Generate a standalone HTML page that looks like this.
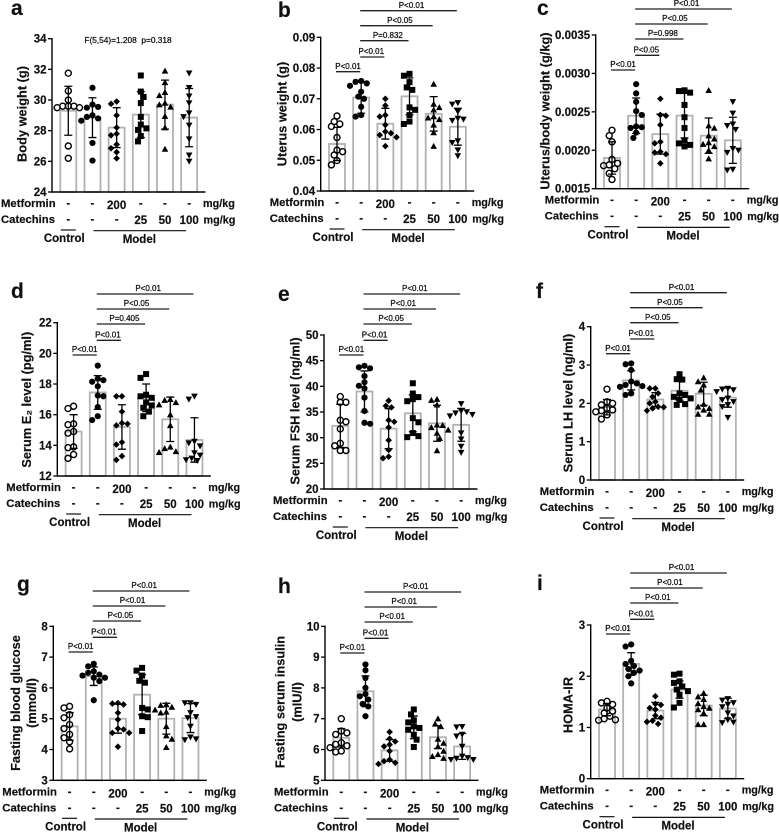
<!DOCTYPE html>
<html lang="en">
<head>
<meta charset="utf-8">
<title>Body weight, uterus, hormone and glucose panels</title>
<style>
html,body{margin:0;padding:0;background:#fff;}
body{width:779px;height:833px;overflow:hidden;}
svg{display:block;filter:blur(0.35px);font-family:"Liberation Sans",Arial,sans-serif;font-weight:bold;fill:#111;}
text{stroke:#111;stroke-width:0.18px;}
</style>
</head>
<body>
<svg id="figure" xmlns="http://www.w3.org/2000/svg" width="779" height="833" viewBox="0 0 779 833"></svg>
<script>
const metforminDoses = ['-', '-', '200', '-', '-', '-'];
const catechinDoses = ['-', '-', '-', '25', '50', '100'];

const aTicks = ['24', '26', '28', '30', '32', '34'];
const aMeans = [29.3, 28.85, 28.2, 29.05, 29.7, 28.85];
const aSds = [1.6, 1.3, 1.3, 1.5, 1.6, 1.9];
const aPoints = [
  [31.75, 30.6, 30, 29.6, 29.6, 29.6, 29.5, 29.5, 27, 26.2],
  [30.8, 29.7, 29.55, 29.5, 29, 28.9, 28.8, 28.65, 27.2, 26.05],
  [29.9, 29.75, 29, 28.2, 27.8, 27.7, 27.1, 26.85, 26.6, 26.2],
  [31.6, 30.55, 30.2, 29.8, 28.9, 28.4, 28.15, 28.05, 27.65, 27.3],
  [31.9, 31.15, 30.5, 30.3, 29.8, 29.7, 29.55, 28.95, 28.2, 26.8],
  [31.75, 30.8, 30.25, 29.8, 29.15, 28.9, 28.35, 27.45, 26.4, 26]
];

const bTicks = ['0.04', '0.05', '0.06', '0.07', '0.08', '0.09'];
const bMeans = [0.0553, 0.0704, 0.0619, 0.0708, 0.0651, 0.0609];
const bSds = [0.0054, 0.0051, 0.005, 0.006, 0.0056, 0.006];
const bPoints = [
  [0.0644, 0.0626, 0.0618, 0.061, 0.0574, 0.0533, 0.0528, 0.0517, 0.0499, 0.0485],
  [0.0758, 0.0755, 0.075, 0.0742, 0.0723, 0.0707, 0.07, 0.0674, 0.0647, 0.0642],
  [0.07, 0.0678, 0.0647, 0.0642, 0.0615, 0.0593, 0.0588, 0.0582, 0.0575, 0.0546],
  [0.0781, 0.0775, 0.0754, 0.0737, 0.0729, 0.0672, 0.0664, 0.0647, 0.0626, 0.0618],
  [0.0748, 0.0683, 0.0672, 0.0664, 0.0642, 0.0638, 0.0633, 0.0615, 0.059, 0.0546],
  [0.0687, 0.0682, 0.0658, 0.0636, 0.0633, 0.0629, 0.0563, 0.0557, 0.0533, 0.0514]
];

const cTicks = ['0.0015', '0.0020', '0.0025', '0.0030', '0.0035'];
const cMeans = [0.0019, 0.00245, 0.00221, 0.00245, 0.00219, 0.00213];
const cSds = [0.00021, 0.00023, 0.00026, 0.00029, 0.00023, 0.0003];
const cPoints = [
  [0.00226, 0.00219, 0.00211, 0.00188, 0.00183, 0.00181, 0.0018, 0.00176, 0.0017, 0.00162],
  [0.00286, 0.00274, 0.00263, 0.00251, 0.00246, 0.00231, 0.0023, 0.00229, 0.00223, 0.00216],
  [0.00267, 0.00246, 0.00245, 0.00233, 0.00211, 0.00209, 0.00198, 0.00197, 0.00195, 0.00183],
  [0.00278, 0.00277, 0.00275, 0.00259, 0.00243, 0.00229, 0.00213, 0.00209, 0.00207, 0.00205],
  [0.00278, 0.00232, 0.00229, 0.00219, 0.00215, 0.0021, 0.00208, 0.00205, 0.002, 0.00189],
  [0.00263, 0.00248, 0.00234, 0.00232, 0.00227, 0.00202, 0.002, 0.00197, 0.00175, 0.00174]
];

const dTicks = ['12', '14', '16', '18', '20', '22'];
const dMeans = [14.9, 17.45, 15.2, 17.1, 15.7, 14.35];
const dSds = [1.1, 1.1, 1.45, 0.9, 1.45, 1.45];
const dPoints = [
  [16.55, 16.4, 15.4, 15.35, 14.9, 14.8, 13.9, 13.85, 13.4, 13.15],
  [19.2, 18.35, 18.25, 18.15, 17.85, 17.25, 17.2, 16.5, 15.9, 15.65],
  [17.2, 17.2, 16.2, 15.45, 15.4, 15.3, 14.2, 14.05, 13.3, 13.05],
  [18.65, 18.4, 17.3, 17.2, 17.1, 16.8, 16.6, 16.45, 16.2, 15.9],
  [17, 16.95, 16.8, 16.65, 16, 15.3, 13.9, 13.8, 13.6, 13.55],
  [17.2, 17, 14.25, 14.15, 13.95, 13.5, 13.35, 13.15, 13.05, 13]
];

const eTicks = ['20', '25', '30', '35', '40', '45', '50'];
const eMeans = [32.3, 39, 31.75, 34.75, 32.8, 32.5];
const eSds = [4.2, 4, 3.9, 3.6, 3.5, 3.2];
const ePoints = [
  [38, 36.9, 36.9, 33.4, 33.1, 31.7, 28.9, 28.4, 27.5, 27.5],
  [44, 43.7, 43.5, 42, 40.8, 40.1, 39.6, 37.8, 35.2, 32.9, 32.7],
  [37.2, 36.2, 35.9, 33.4, 33.1, 32, 29.5, 27.6, 26.3, 26],
  [40.6, 38.6, 37.9, 37.5, 37.1, 33.8, 33, 30.9, 30.3, 30.1],
  [37.5, 37.3, 36.4, 32.5, 32.4, 32, 31.5, 30.9, 29.9, 27.5],
  [36.6, 35.2, 35, 34.8, 34.5, 34.2, 30.9, 29.7, 28.3, 27.1]
];

const fTicks = ['0', '1', '2', '3', '4'];
const fMeans = [1.9, 2.6, 2.1, 2.33, 2.25, 2.15];
const fSds = [0.2, 0.25, 0.18, 0.25, 0.3, 0.25];
const fPoints = [
  [2.37, 2.04, 2, 1.96, 1.87, 1.83, 1.81, 1.78, 1.7, 1.59],
  [3.04, 3.02, 2.87, 2.57, 2.52, 2.48, 2.45, 2.43, 2.26, 2.22],
  [2.39, 2.39, 2.26, 2.17, 2.04, 2, 1.91, 1.9, 1.87, 1.81],
  [2.76, 2.63, 2.62, 2.26, 2.22, 2.17, 2.13, 2.09, 1.98, 1.96],
  [2.67, 2.57, 2.48, 2.35, 1.98, 1.91, 1.87, 1.83, 1.72, 1.72],
  [2.39, 2.37, 2.35, 2.3, 2.13, 2.09, 2.04, 1.96, 1.91, 1.63]
];

const gTicks = ['3', '4', '5', '6', '7', '8'];
const gMeans = [4.75, 6.38, 5, 5.78, 5, 5.02];
const gSds = [0.45, 0.3, 0.47, 0.65, 0.5, 0.47];
const gPoints = [
  [5.4, 5.35, 5.13, 5.03, 4.81, 4.68, 4.49, 4.38, 4.25, 4.02],
  [6.78, 6.7, 6.54, 6.49, 6.43, 6.4, 6.33, 6.33, 6.22, 5.6],
  [5.51, 5.49, 5.46, 5.19, 4.97, 4.68, 4.65, 4.54, 4.54, 4.09],
  [6.65, 6.56, 6.4, 6.23, 6.17, 5.35, 5.3, 5.08, 5.05, 4.6],
  [5.46, 5.44, 5.38, 5.29, 5.22, 5.19, 4.75, 4.45, 4.34, 4.07],
  [5.51, 5.51, 5.46, 5.19, 5.06, 5.03, 4.75, 4.4, 4.34, 4.31]
];

const hTicks = ['5', '6', '7', '8', '9', '10'];
const hMeans = [6.38, 7.89, 5.97, 6.72, 6.4, 6.1];
const hSds = [0.3, 0.5, 0.35, 0.37, 0.37, 0.42];
const hPoints = [
  [7, 6.6, 6.54, 6.49, 6.22, 6.17, 6.12, 6.06, 5.95, 5.92],
  [8.76, 8.57, 8.32, 8, 7.8, 7.73, 7.62, 7.48, 7.4, 7.08],
  [6.57, 6.35, 6.26, 6.16, 6.1, 5.95, 5.67, 5.62, 5.57, 5.53],
  [7.3, 7.14, 6.95, 6.88, 6.75, 6.7, 6.64, 6.48, 6.32, 6.08],
  [7, 6.83, 6.75, 6.34, 6.21, 6.1, 5.95, 5.84, 5.78, 5.72],
  [6.74, 6.73, 6.49, 6.43, 6.1, 5.78, 5.73, 5.71, 5.67, 5.67]
];

const iTicks = ['0', '1', '2', '3'];
const iMeans = [1.35, 2.24, 1.33, 1.74, 1.43, 1.37];
const iSds = [0.12, 0.22, 0.16, 0.17, 0.2, 0.2];
const iPoints = [
  [1.51, 1.48, 1.45, 1.38, 1.32, 1.28, 1.22, 1.17, 1.15, 1.14],
  [2.62, 2.58, 2.3, 2.24, 2.2, 2.14, 2.11, 2.07, 2, 1.86],
  [1.61, 1.46, 1.44, 1.38, 1.35, 1.23, 1.19, 1.13, 1.11, 1.07],
  [2.05, 2.03, 1.9, 1.87, 1.8, 1.74, 1.71, 1.64, 1.48, 1.39],
  [1.67, 1.6, 1.55, 1.47, 1.41, 1.38, 1.35, 1.28, 1.06, 1.06],
  [1.56, 1.53, 1.48, 1.45, 1.4, 1.28, 1.22, 1.15, 1.1, 1.09]
];

const bSig = ['P<0.01', 'P<0.01', 'P=0.832', 'P<0.05', 'P<0.01'];
const cSig = ['P<0.01', 'P<0.05', 'P=0.998', 'P<0.05', 'P<0.01'];
const dSig = ['P<0.01', 'P<0.01', 'P=0.405', 'P<0.05', 'P<0.01'];
const eSig = ['P<0.01', 'P<0.01', 'P<0.05', 'P<0.01', 'P<0.01'];
const fSig = ['P<0.01', 'P<0.01', 'P<0.05', 'P<0.05', 'P<0.01'];
const gSig = ['P<0.01', 'P<0.01', 'P<0.05', 'P<0.01', 'P<0.01'];
const hSig = ['P<0.01', 'P<0.01', 'P<0.01', 'P<0.01', 'P<0.01'];
const iSig = ['P<0.01', 'P<0.01', 'P<0.01', 'P<0.01', 'P<0.01'];

const panels = [
  {id:'a', axis:52, top:38.7, base:192, ticks:aTicks, means:aMeans, sds:aSds, points:aPoints, sig:null, sigY:0,
   letterX:11, letterY:15, title:['Body weight (g)'], titleX:[22], titleY:114},
  {id:'b', axis:320.7, top:37.3, base:191, ticks:bTicks, means:bMeans, sds:bSds, points:bPoints, sig:bSig, sigY:71.7,
   letterX:278, letterY:17, title:['Uterus weight (g)'], titleX:[282], titleY:114},
  {id:'c', axis:595.7, top:35, base:188.7, ticks:cTicks, means:cMeans, sds:cSds, points:cPoints, sig:cSig, sigY:70,
   letterX:537, letterY:15, title:['Uterus/body weight (g/kg)'], titleX:[545], titleY:111},
  {id:'d', axis:57.3, top:322.7, base:476, ticks:dTicks, means:dMeans, sds:dSds, points:dPoints, sig:dSig, sigY:355,
   letterX:11, letterY:298, title:['Serum E\u2082 level (pg/ml)'], titleX:[26.7], titleY:399.7},
  {id:'e', axis:324, top:335, base:489, ticks:eTicks, means:eMeans, sds:eSds, points:ePoints, sig:eSig, sigY:355,
   letterX:278, letterY:301, title:['Serum FSH level (ng/ml)'], titleX:[295], titleY:411},
  {id:'f', axis:590.7, top:326.7, base:480, ticks:fTicks, means:fMeans, sds:fSds, points:fPoints, sig:fSig, sigY:353.7,
   letterX:536, letterY:298, title:['Serum LH level (ng/ml)'], titleX:[568], titleY:403},
  {id:'g', axis:53.3, top:626.3, base:780.3, ticks:gTicks, means:gMeans, sds:gSds, points:gPoints, sig:gSig, sigY:652,
   letterX:17, letterY:591, title:['Fasting blood glucose', '(mmol/l)'], titleX:[15.3, 31.7], titleY:703},
  {id:'h', axis:325, top:626.3, base:780.3, ticks:hTicks, means:hMeans, sds:hSds, points:hPoints, sig:hSig, sigY:653,
   letterX:278, letterY:593, title:['Fasting serum insulin', '(mIU/l)'], titleX:[280, 297], titleY:702},
  {id:'i', axis:590.7, top:625, base:778.7, ticks:iTicks, means:iMeans, sds:iSds, points:iPoints, sig:iSig, sigY:634,
   letterX:537, letterY:590, title:['HOMA-IR'], titleX:[568], titleY:705}
];

const SVG_NS = 'http://www.w3.org/2000/svg';
const root = document.getElementById('figure');

function make(tag, parent, attrs, text) {
  const node = document.createElementNS(SVG_NS, tag);
  for (const key in attrs) node.setAttribute(key, attrs[key]);
  if (text !== undefined) node.textContent = text;
  parent.appendChild(node);
  return node;
}

function swarm(values, minDist, yOf) {
  const placed = [];
  const order = values.map((v, i) => i).sort((p, q) => values[q] - values[p]);
  const result = new Array(values.length).fill(0);
  order.forEach(function (idx, n) {
    const y = yOf(values[idx]);
    const sign = n % 2 ? -1 : 1;
    let chosen = 0;
    for (let k = 0; k < 12; k++) {
      const mag = Math.ceil(k / 2) * 2.8;
      const off = (k % 2 ? sign : -sign) * mag;
      const clash = placed.some(p => Math.hypot(p.x - off, p.y - y) < minDist);
      if (!clash) { chosen = off; break; }
    }
    placed.push({x: chosen, y: y});
    result[idx] = chosen;
  });
  return result;
}

function drawMarker(group, shape, x, y) {
  const s = 3.3;
  const common = {fill: '#000', stroke: 'none'};
  let m;
  if (shape === 0) {
    m = make('circle', group, {cx: x, cy: y, r: 3, fill: 'none', stroke: '#000', 'stroke-width': 1.4});
  } else if (shape === 1) {
    m = make('circle', group, Object.assign({cx: x, cy: y, r: 3.1}, common));
  } else if (shape === 2) {
    m = make('polygon', group, Object.assign({points: [x, y - s, x + s, y, x, y + s, x - s, y].join(' ')}, common));
  } else if (shape === 3) {
    m = make('rect', group, Object.assign({x: x - 3, y: y - 3, width: 6, height: 6}, common));
  } else if (shape === 4) {
    m = make('polygon', group, Object.assign({points: [x, y - s, x + s, y + s - 0.6, x - s, y + s - 0.6].join(' ')}, common));
  } else {
    m = make('polygon', group, Object.assign({points: [x, y + s, x + s, y - s + 0.6, x - s, y - s + 0.6].join(' ')}, common));
  }
  return m;
}

panels.forEach(function (p) {
  const tickVals = p.ticks.map(Number);
  const yMin = tickVals[0];
  const yMax = tickVals[tickVals.length - 1];
  const yOf = v => p.base - (v - yMin) / (yMax - yMin) * (p.base - p.top);
  const xOf = i => p.axis + 16.3 + i * 24.17;

  const g = make('g', root, {});
  
  

  const letter = make('text', g, {x: p.letterX, y: p.letterY, 'font-size': 21}, p.id);
  
  

  p.means.forEach(function (mean, i) {
    const bar = make('rect', g, {x: xOf(i) - 8, y: yOf(mean), width: 16, height: p.base - yOf(mean), fill: '#fff', stroke: '#b2b2b2', 'stroke-width': 1.8});
    
    
  });

  p.means.forEach(function (mean, i) {
    const sd = p.sds[i];
    const cx = xOf(i);
    const err = make('path', g, {
      d: 'M' + cx + ' ' + yOf(mean + sd) + 'V' + yOf(mean - sd) +
         'M' + (cx - 4) + ' ' + yOf(mean + sd) + 'H' + (cx + 4) +
         'M' + (cx - 4) + ' ' + yOf(mean - sd) + 'H' + (cx + 4),
      fill: 'none', stroke: '#000', 'stroke-width': 1.3
    });
    
    

    const offsets = swarm(p.points[i], 5.6, yOf);
    p.points[i].forEach(function (v, j) {
      const pt = drawMarker(g, i, cx + offsets[j], yOf(v));
      
      
    });
  });

  const yAxis = make('line', g, {x1: p.axis, x2: p.axis, y1: p.top - 0.7, y2: p.base + 0.7, stroke: '#000', 'stroke-width': 1.4});
  
  

  const xAxis = make('line', g, {x1: p.axis, x2: p.axis + 153.5, y1: p.base, y2: p.base, stroke: '#000', 'stroke-width': 1.4});
  
  

  p.ticks.forEach(function (label, i) {
    const y = yOf(tickVals[i]);
    const mark = make('line', g, {x1: p.axis - 4, x2: p.axis, y1: y, y2: y, stroke: '#000', 'stroke-width': 1.3});
    
    
    const txt = make('text', g, {x: p.axis - 5.5, y: y + 4, 'font-size': 11.5, 'text-anchor': 'end'}, label);
    
    
  });

  p.title.forEach(function (line, i) {
    const tx = p.titleX[i];
    const t = make('text', g, {
      x: tx, y: p.titleY, 'font-size': 12.8, 'text-anchor': 'middle', 'dominant-baseline': 'central',
      transform: 'rotate(-90 ' + tx + ' ' + p.titleY + ')'
    }, line);
    
    
  });

  const metLabel = make('text', g, {x: p.axis - 51, y: p.base + 15, 'font-size': 11.3}, 'Metformin');
  
  
  const catLabel = make('text', g, {x: p.axis - 51, y: p.base + 31, 'font-size': 11.3}, 'Catechins');
  
  
  const unit1 = make('text', g, {x: p.axis + 151, y: p.base + 15, 'font-size': 10.8}, 'mg/kg');
  
  
  const unit2 = make('text', g, {x: p.axis + 151.5, y: p.base + 31.5, 'font-size': 10.8}, 'mg/kg');
  
  

  metforminDoses.forEach(function (dose, i) {
    const d = make('text', g, {x: xOf(i), y: p.base + (dose === '-' ? 15 : 17), 'font-size': 11.5, 'text-anchor': 'middle'}, dose);
    
    
  });
  catechinDoses.forEach(function (dose, i) {
    const d = make('text', g, {x: xOf(i), y: p.base + (dose === '-' ? 31 : 32), 'font-size': 11.5, 'text-anchor': 'middle'}, dose);
    
    
  });

  const ctrlLine = make('line', g, {x1: xOf(0) - 7.5, x2: xOf(0) + 7.5, y1: p.base + 38, y2: p.base + 38, stroke: '#111', 'stroke-width': 1.2});
  
  
  const modelLine = make('line', g, {x1: xOf(1) + 1, x2: xOf(5) - 3, y1: p.base + 38.7, y2: p.base + 38.7, stroke: '#111', 'stroke-width': 1.2});
  
  
  const ctrlText = make('text', g, {x: xOf(0) - 4, y: p.base + 50, 'font-size': 11.5, 'text-anchor': 'middle'}, 'Control');
  
  
  const modelText = make('text', g, {x: (xOf(1) + xOf(5)) / 2 - 1.5, y: p.base + 51, 'font-size': 11.5, 'text-anchor': 'middle'}, 'Model');
  
  

  if (p.sig) {
    const rowGaps = [0, 14.7, 31, 46, 61];
    const labelShift = [0, -1, 3.5, 3.5, 3];
    p.sig.forEach(function (label, i) {
      const from = i === 0 ? 0 : 1;
      const to = i + 1;
      const y = p.sigY - rowGaps[i];
      const x1 = xOf(from) - 1;
      const x2 = xOf(to) - 1;
      const ln = make('line', g, {x1: x1, x2: x2, y1: y, y2: y, stroke: '#222', 'stroke-width': 1.3});
      
      
      const t = make('text', g, {x: (x1 + x2) / 2 + labelShift[i], y: y - 2.8, 'font-size': 8, 'text-anchor': 'middle', style: 'font-weight:normal;stroke-width:0.25px'}, label);
      
      
    });
  }
});

const statText = make('text', root, {x: 128, y: 43, 'font-size': 8.3, 'text-anchor': 'middle', style: 'white-space:pre;font-weight:normal;stroke-width:0.25px'}, 'F(5,54)=1.208  p=0.318');


</script>
</body>
</html>
